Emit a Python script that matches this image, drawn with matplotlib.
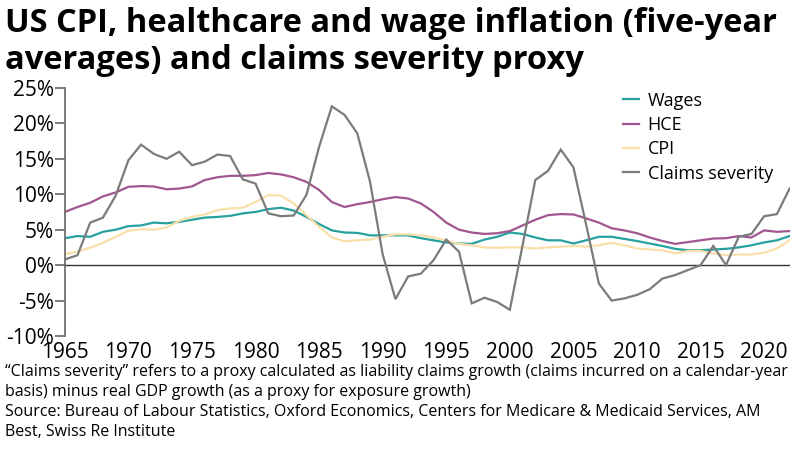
import matplotlib
matplotlib.use("Agg")
import matplotlib.pyplot as plt
from matplotlib.ticker import FuncFormatter

years = list(range(1965, 2023))

wages = [3.8, 4.1, 4.0, 4.7, 5.0, 5.5, 5.6, 6.0, 5.9, 6.1,
         6.4, 6.7, 6.8, 6.95, 7.3, 7.5, 7.9, 8.1, 7.7, 6.8,
         5.8, 4.9, 4.6, 4.55, 4.2, 4.2, 4.2, 4.2, 3.8, 3.5,
         3.2, 3.05, 3.0, 3.6, 4.0, 4.6, 4.4, 3.9, 3.5, 3.5,
         3.05, 3.5, 4.0, 4.0, 3.7, 3.4, 3.05, 2.7, 2.3, 2.1,
         2.1, 2.2, 2.3, 2.5, 2.8, 3.2, 3.5, 4.1]

hce = [7.5, 8.2, 8.8, 9.7, 10.25, 11.05, 11.15, 11.1, 10.7, 10.8,
       11.1, 12.0, 12.4, 12.6, 12.6, 12.7, 13.0, 12.8, 12.4, 11.75,
       10.6, 8.9, 8.2, 8.6, 8.9, 9.3, 9.6, 9.4, 8.7, 7.5,
       6.0, 5.0, 4.6, 4.4, 4.5, 4.8, 5.6, 6.4, 7.05, 7.2,
       7.15, 6.6, 6.0, 5.2, 4.9, 4.5, 3.9, 3.4, 3.0, 3.25,
       3.5, 3.75, 3.8, 4.1, 3.9, 4.9, 4.7, 4.8]

cpi = [1.55, 1.9, 2.45, 3.15, 4.0, 4.85, 5.05, 5.0, 5.3, 6.25,
       6.8, 7.15, 7.75, 8.0, 8.1, 8.9, 9.9, 9.8, 8.7, 7.05,
       5.4, 3.9, 3.35, 3.5, 3.6, 4.0, 4.35, 4.35, 4.2, 3.9,
       3.45, 3.0, 2.8, 2.5, 2.45, 2.5, 2.5, 2.35, 2.5, 2.6,
       2.7, 2.6, 2.8, 3.15, 2.8, 2.35, 2.2, 2.1, 1.65, 2.0,
       2.0, 1.65, 1.4, 1.5, 1.5, 1.75, 2.35, 3.5]

claims = [0.8, 1.4, 6.0, 6.7, 9.8, 14.8, 17.0, 15.7, 15.0, 16.0,
          14.1, 14.6, 15.6, 15.4, 12.1, 11.5, 7.3, 6.9, 7.0, 9.9,
          16.7, 22.4, 21.2, 18.6, 11.8, 1.5, -4.8, -1.6, -1.2, 0.7,
          3.6, 1.9, -5.4, -4.6, -5.2, -6.3, 2.8, 12.0, 13.3, 16.3,
          13.8, 5.7, -2.6, -5.0, -4.7, -4.2, -3.4, -1.9, -1.4, -0.7,
          0.0, 2.7, 0.0, 4.0, 4.4, 6.9, 7.2, 10.8]

series_names = ["Wages", "HCE", "CPI", "Claims severity"]
series_colors = ["#27a0a0", "#a0568f", "#f9dfaa", "#7b7b7b"]

plt.rcParams['font.family'] = ['Open Sans', 'DejaVu Sans']

fig = plt.figure(figsize=(8, 4.51), dpi=100)
ax = fig.add_axes([0.081, 0.255, 0.906, 0.55])

for vals, name, col in zip([wages, hce, cpi, claims], series_names, series_colors):
    ax.plot(years, vals, color=col, lw=1.6, label=name, solid_joinstyle='miter')

ax.axhline(0, color="#333333", lw=1.0, zorder=1)

ax.set_xlim(1965, 2022)
ax.set_ylim(-10, 25)
ax.set_yticks(range(-10, 26, 5))
ax.yaxis.set_major_formatter(FuncFormatter(lambda v, p: f"{int(v)}%"))
ax.set_xticks(range(1965, 2021, 5))

for s in ['top', 'right', 'bottom']:
    ax.spines[s].set_visible(False)
ax.spines['left'].set_color("#666666")
ax.spines['left'].set_linewidth(1.2)
ax.tick_params(axis='y', length=7, width=1.2, color="#666666", labelsize=15, pad=1)
ax.tick_params(axis='x', length=0, labelsize=15, pad=4.5)

ax.legend(loc='upper left', bbox_to_anchor=(0.748, 1.05), frameon=False,
          fontsize=13, handlelength=0.9, handletextpad=0.45, labelspacing=0.35)

fig.text(0.006, 0.985, "US CPI, healthcare and wage inflation (five-year\naverages) and claims severity proxy",
         fontsize=23.5, fontweight='bold', va='top', ha='left', linespacing=1.18)

foot = ("\u201cClaims severity\u201d refers to a proxy calculated as liability claims growth (claims incurred on a calendar-year\n"
        "basis) minus real GDP growth (as a proxy for exposure growth)\n"
        "Source: Bureau of Labour Statistics, Oxford Economics, Centers for Medicare & Medicaid Services, AM\n"
        "Best, Swiss Re Institute")
fig.text(0.006, 0.193, foot, fontsize=11.5, va='top', ha='left', linespacing=1.33)

fig.savefig("out.png", dpi=100)
